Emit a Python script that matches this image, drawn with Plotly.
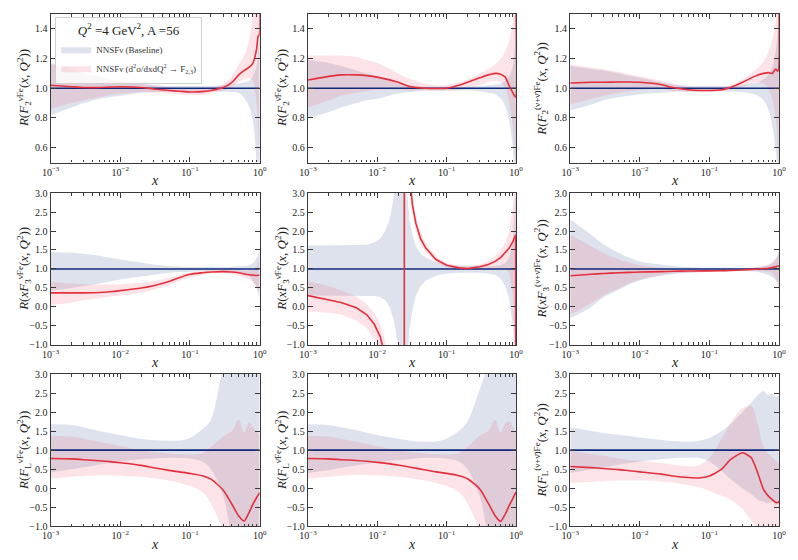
import plotly.graph_objects as go

# ---------------- data ----------------
x_grid = [0.001, 0.002, 0.003, 0.005, 0.007, 0.01, 0.02, 0.03, 0.05, 0.07, 0.1, 0.15,
          0.2, 0.3, 0.4, 0.5, 0.6, 0.7, 0.8, 0.9, 0.95, 0.99, 1.0]

# F2 nu
f2nu_c = [1.02, 1.01, 1.005, 1.005, 1.008, 1.01, 1.005, 0.995, 0.985, 0.98, 0.975, 0.977, 0.985, 1.005, 1.04, 1.09, 1.12, 1.14, 1.17, 1.26, 1.35, 1.36, 1.6]
f2nu_base_hi = [1.17, 1.13, 1.1, 1.08, 1.065, 1.05, 1.03, 1.02, 1.015, 1.015, 1.015, 1.015, 1.015, 1.02, 1.025, 1.03, 1.04, 1.05, 1.08, 1.15, 1.25, 1.4, 1.5]
f2nu_base_lo = [0.82, 0.87, 0.9, 0.93, 0.94, 0.95, 0.97, 0.975, 0.98, 0.98, 0.98, 0.98, 0.98, 0.978, 0.975, 0.968, 0.935, 0.88, 0.78, 0.5, 0.3, 0.2, 0.15]
f2nu_new_hi = [1.16, 1.13, 1.1, 1.075, 1.06, 1.05, 1.03, 1.02, 1.005, 1.0, 0.995, 0.995, 1.0, 1.03, 1.08, 1.16, 1.22, 1.32, 1.5, 1.7, 1.8, 1.9, 2.0]
f2nu_new_lo = [0.86, 0.9, 0.92, 0.94, 0.955, 0.965, 0.975, 0.97, 0.965, 0.96, 0.955, 0.955, 0.965, 0.985, 1.01, 1.04, 1.06, 1.07, 1.05, 0.9, 0.7, 0.5, 0.4]

# F2 nubar
f2nb_c = [1.055, 1.08, 1.09, 1.09, 1.085, 1.075, 1.04, 1.01, 1.0, 0.998, 1.0, 1.02, 1.04, 1.07, 1.09, 1.1, 1.095, 1.075, 1.015, 0.97, 0.95, 0.94, 1.6]
f2nb_base_hi = [1.19, 1.17, 1.15, 1.12, 1.1, 1.08, 1.03, 1.02, 1.01, 1.01, 1.01, 1.01, 1.01, 1.015, 1.02, 1.025, 1.03, 1.05, 1.08, 1.15, 1.25, 1.4, 1.5]
f2nb_base_lo = [0.8, 0.84, 0.87, 0.9, 0.92, 0.93, 0.965, 0.975, 0.985, 0.985, 0.985, 0.985, 0.985, 0.98, 0.97, 0.96, 0.93, 0.88, 0.78, 0.6, 0.45, 0.35, 0.3]
f2nb_new_hi = [1.22, 1.22, 1.22, 1.21, 1.19, 1.17, 1.1, 1.06, 1.03, 1.02, 1.02, 1.04, 1.06, 1.1, 1.13, 1.16, 1.2, 1.25, 1.32, 1.45, 1.55, 1.65, 1.7]
f2nb_new_lo = [0.87, 0.92, 0.95, 0.97, 0.98, 0.99, 0.99, 0.985, 0.985, 0.985, 0.985, 0.99, 1.0, 1.02, 1.04, 1.05, 1.04, 1.0, 0.9, 0.75, 0.6, 0.45, 0.4]

# F2 nu+nubar
f2sum_c = [1.035, 1.04, 1.04, 1.042, 1.042, 1.04, 1.025, 1.005, 0.99, 0.985, 0.985, 0.99, 1.005, 1.04, 1.07, 1.09, 1.1, 1.105, 1.1, 1.13, 1.115, 1.13, 1.6]
f2sum_base_hi = [1.15, 1.13, 1.12, 1.1, 1.085, 1.07, 1.04, 1.025, 1.015, 1.015, 1.015, 1.015, 1.015, 1.02, 1.03, 1.04, 1.06, 1.09, 1.14, 1.25, 1.35, 1.45, 1.5]
f2sum_base_lo = [0.85, 0.89, 0.92, 0.94, 0.95, 0.96, 0.97, 0.975, 0.98, 0.98, 0.98, 0.98, 0.978, 0.975, 0.965, 0.95, 0.92, 0.86, 0.75, 0.58, 0.45, 0.35, 0.3]
f2sum_new_hi = [1.16, 1.14, 1.13, 1.11, 1.095, 1.08, 1.05, 1.03, 1.01, 1.0, 1.0, 1.005, 1.02, 1.06, 1.1, 1.14, 1.18, 1.24, 1.32, 1.45, 1.55, 1.65, 1.7]
f2sum_new_lo = [0.89, 0.93, 0.95, 0.97, 0.98, 0.99, 0.995, 0.985, 0.975, 0.975, 0.975, 0.98, 0.99, 1.01, 1.03, 1.04, 1.03, 1.0, 0.93, 0.8, 0.65, 0.5, 0.45]

# xF3 nu
xf3nu_c = [0.37, 0.37, 0.37, 0.38, 0.4, 0.43, 0.5, 0.56, 0.67, 0.77, 0.86, 0.9, 0.92, 0.93, 0.92, 0.9, 0.87, 0.85, 0.84, 0.83, 0.835, 0.84, 0.84]
xf3nu_base_hi = [1.45, 1.43, 1.4, 1.35, 1.3, 1.25, 1.17, 1.12, 1.08, 1.06, 1.05, 1.05, 1.05, 1.05, 1.06, 1.07, 1.08, 1.1, 1.15, 1.28, 1.4, 1.55, 1.6]
xf3nu_base_lo = [0.43, 0.5, 0.55, 0.62, 0.67, 0.72, 0.8, 0.85, 0.9, 0.92, 0.93, 0.94, 0.95, 0.95, 0.94, 0.92, 0.88, 0.82, 0.7, 0.5, 0.35, 0.25, 0.2]
xf3nu_new_hi = [0.65, 0.62, 0.6, 0.59, 0.59, 0.6, 0.64, 0.68, 0.76, 0.84, 0.9, 0.94, 0.96, 0.97, 0.97, 0.96, 0.95, 0.95, 0.97, 1.05, 1.15, 1.3, 1.35]
xf3nu_new_lo = [0.05, 0.12, 0.18, 0.23, 0.27, 0.3, 0.38, 0.45, 0.58, 0.68, 0.78, 0.85, 0.88, 0.89, 0.87, 0.83, 0.78, 0.72, 0.65, 0.55, 0.45, 0.4, 0.35]

# xF3 nubar (has a pole near x ~ 0.0245)
x_grid_xf3nb = [0.001, 0.002, 0.003, 0.005, 0.007, 0.009, 0.011, 0.013, 0.015, 0.017, 0.02, 0.0244,
                0.0246, 0.027, 0.029, 0.032, 0.036, 0.042, 0.05, 0.07, 0.1, 0.15, 0.2, 0.3, 0.4,
                0.5, 0.6, 0.7, 0.8, 0.9, 0.95, 0.99, 1.0]
xf3nb_c = [0.30, 0.19, 0.12, -0.02, -0.2, -0.45, -0.78, -1.3, -2.0, -3.0, -5.0, -60, 60, 5.0, 3.6, 2.7, 2.2, 1.8, 1.55, 1.25, 1.1, 1.03, 1.01, 1.06, 1.12, 1.2, 1.3, 1.42, 1.55, 1.72, 1.82, 1.9, -5]
xf3nb_base_hi = [1.62, 1.62, 1.62, 1.63, 1.64, 1.7, 1.8, 2.0, 2.3, 2.8, 4.0, 60, 60, 3.0, 2.3, 1.9, 1.6, 1.4, 1.3, 1.18, 1.12, 1.09, 1.08, 1.07, 1.07, 1.08, 1.1, 1.15, 1.3, 1.7, 2.3, 3.0, 3.5]
xf3nb_base_lo = [0.3, 0.3, 0.3, 0.3, 0.3, 0.29, 0.26, 0.18, 0.0, -0.3, -1.0, -60, -60, -1.5, -0.6, -0.1, 0.3, 0.55, 0.7, 0.82, 0.88, 0.9, 0.9, 0.9, 0.88, 0.85, 0.75, 0.55, 0.2, -0.5, -1.0, -1.5, -2.0]
xf3nb_new_hi = [0.68, 0.55, 0.44, 0.27, 0.08, -0.15, -0.45, -0.85, -1.3, -2.0, -3.5, -40, 80, 5.6, 4.0, 2.95, 2.4, 1.95, 1.67, 1.33, 1.16, 1.08, 1.07, 1.12, 1.22, 1.35, 1.5, 1.7, 2.0, 2.6, 3.0, 3.5, 4.0]
xf3nb_new_lo = [-0.12, -0.15, -0.2, -0.36, -0.55, -0.85, -1.2, -1.8, -2.6, -4.0, -6.5, -80, 40, 4.5, 3.25, 2.45, 2.0, 1.66, 1.45, 1.18, 1.05, 0.99, 0.97, 0.98, 1.0, 1.02, 1.02, 1.0, 0.9, 0.3, -0.5, -1.5, -2.0]

# xF3 nu+nubar
xf3sum_c = [0.82, 0.86, 0.88, 0.9, 0.91, 0.92, 0.93, 0.94, 0.945, 0.95, 0.95, 0.955, 0.96, 0.975, 0.99, 1.0, 1.01, 1.02, 1.04, 1.06, 1.07, 1.08, 1.08]
xf3sum_base_hi = [2.3, 1.9, 1.65, 1.42, 1.3, 1.2, 1.12, 1.08, 1.05, 1.04, 1.03, 1.03, 1.03, 1.03, 1.04, 1.05, 1.07, 1.1, 1.15, 1.25, 1.35, 1.45, 1.5]
xf3sum_base_lo = [-0.3, 0.0, 0.25, 0.45, 0.6, 0.7, 0.82, 0.87, 0.9, 0.92, 0.93, 0.94, 0.95, 0.95, 0.94, 0.92, 0.88, 0.84, 0.78, 0.7, 0.65, 0.6, 0.55]
xf3sum_new_hi = [1.9, 1.6, 1.42, 1.25, 1.17, 1.1, 1.03, 1.0, 0.99, 0.98, 0.98, 0.985, 0.99, 1.0, 1.02, 1.05, 1.08, 1.12, 1.18, 1.28, 1.35, 1.42, 1.45]
xf3sum_new_lo = [-0.2, 0.1, 0.3, 0.5, 0.62, 0.72, 0.84, 0.88, 0.9, 0.91, 0.92, 0.93, 0.94, 0.95, 0.95, 0.95, 0.94, 0.92, 0.88, 0.75, 0.6, 0.45, 0.4]

# FL nu
flnu_c = [0.78, 0.77, 0.75, 0.72, 0.7, 0.67, 0.6, 0.54, 0.47, 0.43, 0.39, 0.33, 0.24, -0.05, -0.42, -0.73, -0.86, -0.65, -0.42, -0.25, -0.18, -0.13, -0.12]
flnu_base_hi = [1.68, 1.66, 1.6, 1.5, 1.45, 1.4, 1.3, 1.26, 1.25, 1.25, 1.32, 1.55, 1.8, 3.1, 3.5, 3.5, 3.5, 3.5, 3.5, 3.5, 3.5, 3.5, 3.5]
flnu_base_lo = [0.42, 0.5, 0.55, 0.62, 0.66, 0.7, 0.76, 0.78, 0.8, 0.8, 0.78, 0.7, 0.5, -0.2, -1.2, -1.5, -1.5, -1.5, -1.5, -1.5, -1.5, -1.5, -1.5]
flnu_new_hi = [1.38, 1.35, 1.3, 1.22, 1.16, 1.1, 1.0, 0.95, 0.91, 0.89, 0.88, 0.92, 1.08, 1.36, 1.5, 1.8, 1.45, 1.72, 1.6, 1.5, 1.45, 1.42, 1.4]
flnu_new_lo = [0.25, 0.3, 0.32, 0.34, 0.34, 0.33, 0.3, 0.26, 0.2, 0.14, 0.06, -0.1, -0.4, -1.1, -1.5, -1.5, -1.5, -1.5, -1.5, -1.5, -1.5, -1.5, -1.5]

# FL nubar
flnb_c = [0.78, 0.77, 0.75, 0.73, 0.71, 0.68, 0.61, 0.55, 0.48, 0.43, 0.39, 0.33, 0.25, -0.02, -0.4, -0.72, -0.87, -0.68, -0.45, -0.27, -0.18, -0.12, -0.1]
flnb_base_hi = [1.68, 1.66, 1.6, 1.52, 1.46, 1.4, 1.3, 1.25, 1.22, 1.23, 1.3, 1.5, 1.75, 2.6, 3.2, 3.5, 3.5, 3.5, 3.5, 3.5, 3.5, 3.5, 3.5]
flnb_base_lo = [0.4, 0.48, 0.54, 0.6, 0.64, 0.68, 0.74, 0.77, 0.8, 0.8, 0.78, 0.7, 0.5, -0.2, -1.2, -1.5, -1.5, -1.5, -1.5, -1.5, -1.5, -1.5, -1.5]
flnb_new_hi = [1.38, 1.35, 1.3, 1.22, 1.16, 1.1, 1.0, 0.95, 0.91, 0.89, 0.88, 0.92, 1.08, 1.38, 1.5, 1.8, 1.45, 1.7, 1.75, 1.6, 1.5, 1.45, 1.4]
flnb_new_lo = [0.25, 0.3, 0.33, 0.35, 0.35, 0.34, 0.3, 0.26, 0.2, 0.14, 0.06, -0.1, -0.4, -1.1, -1.5, -1.5, -1.5, -1.5, -1.5, -1.5, -1.5, -1.5, -1.5]

# FL nu+nubar
flsum_c = [0.57, 0.54, 0.52, 0.49, 0.46, 0.43, 0.37, 0.32, 0.28, 0.27, 0.32, 0.5, 0.75, 0.93, 0.8, 0.38, -0.03, -0.2, -0.3, -0.37, -0.38, -0.36, -0.33]
flsum_base_hi = [1.6, 1.5, 1.45, 1.4, 1.37, 1.33, 1.27, 1.24, 1.22, 1.25, 1.32, 1.5, 1.68, 2.0, 2.25, 2.45, 2.55, 2.45, 2.48, 2.4, 2.42, 2.45, 2.45]
flsum_base_lo = [0.4, 0.5, 0.55, 0.62, 0.66, 0.7, 0.76, 0.79, 0.8, 0.8, 0.7, 0.45, 0.25, 0.0, -0.15, -0.3, -0.35, -0.4, -0.35, -0.45, -0.4, -0.45, -0.5]
flsum_new_hi = [0.97, 0.9, 0.85, 0.78, 0.74, 0.72, 0.66, 0.62, 0.58, 0.6, 0.8, 1.3, 1.7, 2.1, 2.15, 1.65, 1.08, 0.9, 0.82, 0.72, 0.68, 0.66, 0.65]
flsum_new_lo = [0.14, 0.17, 0.19, 0.2, 0.2, 0.2, 0.18, 0.15, 0.08, 0.03, -0.07, -0.2, -0.29, -0.55, -0.85, -1.1, -1.2, -1.2, -1.2, -1.2, -1.2, -1.2, -1.2]

x_tickvals = [1e-3, 1e-2, 1e-1, 1.0]
x_ticktext = ["10<sup>\u22123</sup>", "10<sup>\u22122</sup>", "10<sup>\u22121</sup>", "10<sup>0</sup>"]

NB = "\u03bd\u0304"
y_titles = [
    "<i>R</i>(<i>F</i><sub>2</sub><sup>\u03bdFe</sup>(<i>x</i>, <i>Q</i><sup>2</sup>))",
    "<i>R</i>(<i>F</i><sub>2</sub><sup>" + NB + "Fe</sup>(<i>x</i>, <i>Q</i><sup>2</sup>))",
    "<i>R</i>(<i>F</i><sub>2</sub><sup>(\u03bd+" + NB + ")Fe</sup>(<i>x</i>, <i>Q</i><sup>2</sup>))",
    "<i>R</i>(<i>xF</i><sub>3</sub><sup>\u03bdFe</sup>(<i>x</i>, <i>Q</i><sup>2</sup>))",
    "<i>R</i>(<i>xF</i><sub>3</sub><sup>" + NB + "Fe</sup>(<i>x</i>, <i>Q</i><sup>2</sup>))",
    "<i>R</i>(<i>xF</i><sub>3</sub><sup>(\u03bd+" + NB + ")Fe</sup>(<i>x</i>, <i>Q</i><sup>2</sup>))",
    "<i>R</i>(<i>F</i><sub>L</sub><sup>\u03bdFe</sup>(<i>x</i>, <i>Q</i><sup>2</sup>))",
    "<i>R</i>(<i>F</i><sub>L</sub><sup>" + NB + "Fe</sup>(<i>x</i>, <i>Q</i><sup>2</sup>))",
    "<i>R</i>(<i>F</i><sub>L</sub><sup>(\u03bd+" + NB + ")Fe</sup>(<i>x</i>, <i>Q</i><sup>2</sup>))",
]

panels = [
    (x_grid, f2nu_base_lo, f2nu_base_hi, f2nu_new_lo, f2nu_new_hi, f2nu_c),
    (x_grid, f2nb_base_lo, f2nb_base_hi, f2nb_new_lo, f2nb_new_hi, f2nb_c),
    (x_grid, f2sum_base_lo, f2sum_base_hi, f2sum_new_lo, f2sum_new_hi, f2sum_c),
    (x_grid, xf3nu_base_lo, xf3nu_base_hi, xf3nu_new_lo, xf3nu_new_hi, xf3nu_c),
    (x_grid_xf3nb, xf3nb_base_lo, xf3nb_base_hi, xf3nb_new_lo, xf3nb_new_hi, xf3nb_c),
    (x_grid, xf3sum_base_lo, xf3sum_base_hi, xf3sum_new_lo, xf3sum_new_hi, xf3sum_c),
    (x_grid, flnu_base_lo, flnu_base_hi, flnu_new_lo, flnu_new_hi, flnu_c),
    (x_grid, flnb_base_lo, flnb_base_hi, flnb_new_lo, flnb_new_hi, flnb_c),
    (x_grid, flsum_base_lo, flsum_base_hi, flsum_new_lo, flsum_new_hi, flsum_c),
]

# ---------------- styling ----------------
FONT = "Liberation Serif"
BASE_FILL = "rgba(120,140,185,0.25)"
NEW_FILL = "rgba(240,100,120,0.18)"
RED = "#e3303c"
NAVY = "#0f2878"
FRAME = "#3a3a3a"

# the page body adds an 8px margin; size the figure so it fits the 798x560 window
PAGE_OFF = 8
FIG_W, FIG_H = 798 - PAGE_OFF, 560 - PAGE_OFF


def fx(px):
    return min(1.0, max(0.0, (px - PAGE_OFF) / FIG_W))


def fy(py):
    return min(1.0, max(0.0, 1 - (py - PAGE_OFF) / FIG_H))


col_px = [(42.3, 255.7), (305.0, 517.3), (572.7, 785.7)]
row_px = [(8.0, 159.8), (191.0, 346.3), (376.0, 531.7)]
ytitle_px = [15.0, 278.3, 543.3]
xtitle_px = [178.0, 364.0, 550.0]

col_dom = [(fx(a), fx(b)) for a, b in col_px]
row_dom = [(fy(b), fy(a)) for a, b in row_px]

fig = go.Figure()
layout = {}
annotations = []

for k, (xs, blo, bhi, nlo, nhi, cen) in enumerate(panels):
    r, c = divmod(k, 3)
    idx = "" if k == 0 else str(k + 1)
    xa, ya = "x" + idx, "y" + idx
    shape = "linear" if k == 4 else "spline"
    common = dict(xaxis=xa, yaxis=ya, hoverinfo="skip")
    fig.add_trace(go.Scatter(x=xs, y=blo, mode="lines", line=dict(width=0, shape=shape),
                             showlegend=False, **common))
    fig.add_trace(go.Scatter(x=xs, y=bhi, mode="lines", line=dict(width=0, shape=shape),
                             fill="tonexty", fillcolor=BASE_FILL,
                             name="NNSF\u03bd (Baseline)", showlegend=(k == 0), **common))
    fig.add_trace(go.Scatter(x=xs, y=nlo, mode="lines", line=dict(width=0, shape=shape),
                             showlegend=False, **common))
    fig.add_trace(go.Scatter(x=xs, y=nhi, mode="lines", line=dict(width=0, shape=shape),
                             fill="tonexty", fillcolor=NEW_FILL,
                             name="NNSF\u03bd (d<sup>2</sup>\u03c3/dxdQ<sup>2</sup> \u2192 F<sub>2,3</sub>)",
                             showlegend=(k == 0), **common))
    fig.add_trace(go.Scatter(x=[xs[0], xs[-1]], y=[1.0, 1.0], mode="lines",
                             line=dict(color=NAVY, width=1.6), showlegend=False, **common))
    fig.add_trace(go.Scatter(x=xs, y=cen, mode="lines",
                             line=dict(color=RED, width=1.6, shape=shape, smoothing=0.6),
                             showlegend=False, **common))

    axis_common = dict(showline=True, linecolor=FRAME, linewidth=1.3, mirror="ticks",
                       ticks="inside", tickcolor=FRAME, ticklen=5, tickwidth=1,
                       showgrid=False, zeroline=False,
                       tickfont=dict(family=FONT, size=10, color="#222"))
    layout["xaxis" + idx] = dict(type="log", range=[-3, 0], domain=list(col_dom[c]),
                                 anchor=ya, tickvals=x_tickvals, ticktext=x_ticktext,
                                 minor=dict(ticks="inside", ticklen=2.5, tickcolor=FRAME,
                                            dtick="D1", showgrid=False),
                                 **axis_common)
    if r == 0:
        yextra = dict(range=[0.5, 1.5], tickvals=[0.6, 0.8, 1.0, 1.2, 1.4], tickformat=".1f")
    else:
        yextra = dict(range=[-1.0, 3.0], tickvals=[-1.0, -0.5, 0.0, 0.5, 1.0, 1.5, 2.0, 2.5, 3.0],
                      tickformat=".1f")
    layout["yaxis" + idx] = dict(domain=list(row_dom[r]), anchor=xa, **yextra, **axis_common)

    annotations.append(dict(text=y_titles[k], xref="paper", yref="paper",
                            x=fx(ytitle_px[c]), y=(row_dom[r][0] + row_dom[r][1]) / 2,
                            textangle=-90, showarrow=False, xanchor="center", yanchor="middle",
                            font=dict(family=FONT, size=13, color="#222")))
    annotations.append(dict(text="<i>x</i>", xref="paper", yref="paper",
                            x=(col_dom[c][0] + col_dom[c][1]) / 2, y=fy(xtitle_px[r]),
                            showarrow=False, xanchor="center", yanchor="middle",
                            font=dict(family=FONT, size=14, color="#222")))

fig.update_layout(
    width=FIG_W, height=FIG_H,
    margin=dict(l=0, r=0, t=0, b=0),
    paper_bgcolor="white", plot_bgcolor="white",
    font=dict(family=FONT, color="#222"),
    annotations=annotations,
    legend=dict(x=fx(47), y=fy(11), xanchor="left", yanchor="top",
                bgcolor="rgba(255,255,255,0.85)", bordercolor="#d0d0d0", borderwidth=1,
                font=dict(family=FONT, size=9, color="#333"),
                title=dict(text="<i>Q</i><sup>2</sup> =4 GeV<sup>2</sup>, A =56",
                           side="top center", font=dict(family=FONT, size=13, color="#222")),
                traceorder="normal", tracegroupgap=0, itemwidth=30),
    **layout,
)

fig.write_html("out.html")
